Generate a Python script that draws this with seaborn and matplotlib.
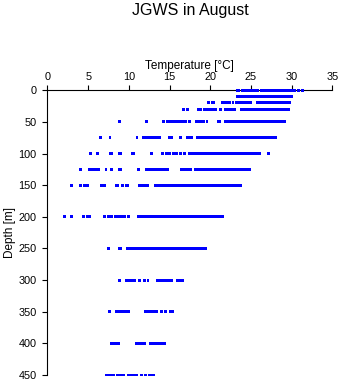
import matplotlib
matplotlib.use("Agg")
import matplotlib.pyplot as plt
import seaborn as sns
import pandas as pd

# Depth levels [m]
depths = [0, 10, 20, 30, 50, 75, 100, 125, 150, 200, 250, 300, 350, 400, 450]

# Temperature observations [°C] at each depth level
t_0 = [23.3, 23.45, 23.95, 24.25, 24.55, 24.85, 25.15, 25.45, 25.75, 26.25, 26.55,
       26.85, 27.15, 27.45, 27.75, 28.05, 28.35, 28.65, 28.95, 29.25, 29.55, 29.85,
       30.15, 30.35, 30.88, 31.37]
t_10 = [23.3, 23.6, 23.9, 24.2, 24.5, 24.8, 25.1, 25.4, 25.7, 26.0, 26.3, 26.6, 26.9,
        27.2, 27.5, 27.8, 28.1, 28.4, 28.7, 29.0, 29.3, 29.6, 29.9, 30.0]
t_20 = [19.84, 20.3, 20.45, 21.45, 21.75, 22.05, 22.35, 22.8, 23.25, 23.55, 23.85,
        24.15, 24.45, 24.75, 25.0, 25.75, 26.05, 26.35, 26.65, 26.95, 27.25, 27.55,
        27.85, 28.15, 28.45, 28.75, 29.05, 29.35, 29.65, 29.75]
t_30 = [16.75, 17.2, 18.5, 18.8, 19.3, 19.6, 19.9, 20.2, 20.5, 20.7, 21.25, 21.9, 22.2,
        22.5, 22.8, 23.0, 23.8, 24.1, 24.4, 24.7, 25.0, 25.3, 25.6, 25.9, 26.2, 26.5,
        26.8, 27.1, 27.4, 27.7, 28.0, 28.3, 28.6, 28.9, 29.2, 29.5, 29.6]
t_50 = [8.82, 12.19, 14.3, 14.7, 15.1, 15.5, 15.8, 16.2, 16.6, 17.0, 17.45, 18.3, 18.6,
        18.9, 19.2, 19.6, 20.95, 21.15, 21.9, 22.2, 22.5, 22.8, 23.1, 23.4, 23.7, 24.0,
        24.3, 24.6, 24.9, 25.2, 25.5, 25.8, 26.1, 26.4, 26.7, 27.0, 27.3, 27.6, 27.9,
        28.2, 28.5, 28.8, 29.15]
t_75 = [6.5, 7.68, 11.0, 11.75, 12.1, 12.4, 12.7, 13.05, 13.4, 13.8, 14.95, 15.3, 16.35,
        17.15, 17.45, 17.75, 18.4, 18.7, 19.0, 19.3, 19.6, 19.9, 20.2, 20.5, 20.8, 21.1,
        21.4, 21.7, 22.0, 22.3, 22.6, 22.9, 23.2, 23.5, 23.8, 24.1, 24.4, 24.7, 25.0,
        25.3, 25.6, 25.9, 26.2, 26.5, 26.8, 27.1, 27.4, 27.6, 28.0]
t_100 = [5.26, 6.2, 7.7, 7.9, 8.8, 9.0, 10.45, 10.6, 12.75, 14.15, 14.6, 15.0, 15.5,
         15.9, 16.4, 16.85, 17.4, 17.7, 18.0, 18.3, 18.6, 18.9, 19.2, 19.5, 19.8, 20.1,
         20.4, 20.7, 21.0, 21.3, 21.6, 21.9, 22.2, 22.5, 22.8, 23.1, 23.4, 23.7, 24.0,
         24.3, 24.6, 24.9, 25.2, 25.5, 25.8, 26.1, 27.12]
t_125 = [4.03, 5.15, 5.45, 5.75, 6.05, 6.3, 7.19, 7.92, 8.8, 9.0, 11.15, 12.15, 12.5,
         12.85, 13.2, 13.55, 13.9, 14.25, 14.5, 14.8, 16.45, 16.75, 17.05, 17.35, 17.55,
         18.2, 18.5, 18.8, 19.1, 19.4, 19.7, 20.0, 20.3, 20.6, 20.9, 21.2, 21.5, 21.8,
         22.1, 22.4, 22.7, 23.0, 23.3, 23.6, 23.9, 24.2, 24.5, 24.8]
t_150 = [2.93, 4.03, 4.55, 4.9, 6.6, 6.95, 8.45, 8.6, 9.27, 9.7, 9.85, 11.25, 11.6,
         11.95, 12.3, 13.3, 13.6, 13.9, 14.2, 14.5, 14.8, 15.1, 15.4, 15.7, 16.0, 16.3,
         16.6, 16.9, 17.2, 17.5, 17.8, 18.1, 18.4, 18.7, 19.0, 19.3, 19.6, 19.9, 20.2,
         20.5, 20.8, 21.1, 21.4, 21.7, 22.0, 22.3, 22.6, 22.9, 23.2, 23.5, 23.7]
t_200 = [2.1, 2.93, 4.45, 4.95, 5.15, 6.95, 7.55, 7.9, 8.3, 8.7, 9.1, 9.5, 9.95, 11.2,
         11.5, 11.8, 12.1, 12.4, 12.7, 13.0, 13.3, 13.6, 13.9, 14.2, 14.5, 14.8, 15.1,
         15.4, 15.7, 16.0, 16.3, 16.6, 16.9, 17.2, 17.5, 17.8, 18.1, 18.4, 18.7, 19.0,
         19.3, 19.6, 19.9, 20.2, 20.5, 20.8, 21.1, 21.5]
t_250 = [7.45, 8.8, 8.97, 9.8, 10.1, 10.4, 10.7, 11.0, 11.3, 11.6, 11.9, 12.2, 12.5,
         12.8, 13.1, 13.4, 13.7, 14.0, 14.3, 14.6, 14.9, 15.2, 15.5, 15.8, 16.1, 16.4,
         16.7, 17.0, 17.3, 17.6, 17.9, 18.2, 18.5, 18.8, 19.1, 19.4]
t_300 = [8.83, 9.7, 10.05, 10.4, 10.7, 11.36, 11.9, 12.35, 13.5, 13.8, 14.1, 14.4, 14.7,
         15.0, 15.23, 15.95, 16.25, 16.6]
t_350 = [7.6, 8.5, 8.8, 9.1, 9.4, 9.7, 10.0, 12.0, 12.3, 12.65, 13.0, 13.35, 14.05,
         14.5, 15.1, 15.4]
t_400 = [7.83, 8.1, 8.45, 8.75, 10.9, 11.2, 11.5, 11.8, 11.95, 12.65, 12.95, 13.25,
         13.55, 13.85, 14.15, 14.4]
t_450 = [7.2, 7.45, 7.9, 8.1, 8.65, 8.95, 9.25, 9.4, 9.95, 10.25, 10.55, 10.85, 10.97,
         11.6, 12.05, 12.5, 12.8, 13.05]

temps = [t_0, t_10, t_20, t_30, t_50, t_75, t_100, t_125, t_150, t_200,
         t_250, t_300, t_350, t_400, t_450]

x_ticks = [0, 5, 10, 15, 20, 25, 30, 35]
y_ticks = [0, 50, 100, 150, 200, 250, 300, 350, 400, 450]

rows = []
for d, ts in zip(depths, temps):
    for t in ts:
        rows.append({"Temperature": t, "Depth": d})
df = pd.DataFrame(rows)

sns.set_theme(style="ticks")
plt.rcParams["font.family"] = ["Liberation Sans", "DejaVu Sans"]

fig = plt.figure(figsize=(3.41, 3.84), dpi=100)
ax = fig.add_axes([47.5 / 341, 9 / 384, (332.3 - 47.5) / 341, (375 - 90.3) / 384])

sns.scatterplot(data=df, x="Temperature", y="Depth", ax=ax, marker="s", s=4.5,
                color="#0000ff", linewidth=0, edgecolor="none", clip_on=False,
                zorder=5, legend=False)

ax.set_xlim(0, 35)
ax.set_ylim(450, 0)
ax.set_xticks(x_ticks)
ax.set_yticks(y_ticks)
ax.xaxis.tick_top()
ax.xaxis.set_label_position("top")
for s in ["right", "bottom"]:
    ax.spines[s].set_visible(False)
for s in ["left", "top"]:
    ax.spines[s].set_linewidth(0.8)
    ax.spines[s].set_color("black")

ax.tick_params(axis="x", direction="out", length=3.8, width=0.8, labelsize=7.8,
               pad=2.5, colors="black")
ax.tick_params(axis="y", direction="out", length=3.8, width=0.8, labelsize=7.8,
               pad=4, colors="black")
ax.set_xlabel("Temperature [°C]", fontsize=8.5, labelpad=2, color="black")
ax.set_ylabel("Depth [m]", fontsize=8.5, labelpad=1.5, color="black")
ax.grid(False)

fig.text(190 / 341, 1 - 15 / 384, "JGWS in August", ha="center", va="baseline",
         fontsize=11.5, color="black")

fig.savefig("out.png", dpi=100, facecolor="white")
